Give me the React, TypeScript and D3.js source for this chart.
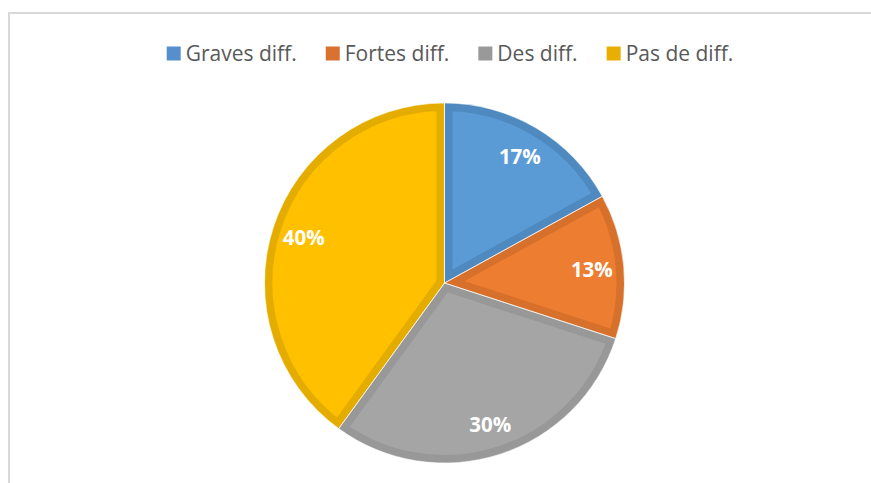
import React, { useEffect, useRef } from "react";
import * as d3 from "d3";

const categories = ["Graves diff.", "Fortes diff.", "Des diff.", "Pas de diff."];
const values = [17, 13, 30, 40];
const labels = ["17%", "13%", "30%", "40%"];
const fillColors = ["#5B9BD5", "#ED7D31", "#A5A5A5", "#FFC000"];
const edgeColors = ["#4E89BF", "#D6702B", "#989898", "#E5AC00"];
const legendColors = ["#5690CC", "#D97230", "#999999", "#E8AE00"];

const W = 871;
const H = 483;

export default function App() {
  const ref = useRef<SVGSVGElement | null>(null);

  useEffect(() => {
    const svg = d3.select(ref.current);
    svg.selectAll("*").remove();

    // frame
    svg.append("rect")
      .attr("x", 9).attr("y", 13)
      .attr("width", W + 20).attr("height", H + 20)
      .attr("fill", "#fff")
      .attr("stroke", "#D9D9D9").attr("stroke-width", 2);

    const cx = 444.5, cy = 283, r = 180, band = 8, labelR = 148;
    const pie = d3.pie<number>().sort(null).value((d) => d);
    const arcs = pie(values);
    const arc = d3.arc<d3.PieArcDatum<number>>().innerRadius(0).outerRadius(r);
    const labelArc = d3.arc<d3.PieArcDatum<number>>().innerRadius(labelR).outerRadius(labelR);

    const defs = svg.append("defs");
    const g = svg.append("g").attr("transform", `translate(${cx},${cy})`);

    arcs.forEach((a, i) => {
      const id = `clip${i}`;
      defs.append("clipPath").attr("id", id).append("path").attr("d", arc(a) as string);
      g.append("path")
        .attr("d", arc(a) as string)
        .attr("fill", fillColors[i])
        .attr("stroke", edgeColors[i])
        .attr("stroke-width", band * 2)
        .attr("stroke-linejoin", "miter")
        .attr("clip-path", `url(#${id})`);
    });
    arcs.forEach((a) => {
      g.append("path")
        .attr("d", arc(a) as string)
        .attr("fill", "none")
        .attr("stroke", "#fff")
        .attr("stroke-opacity", 0.6)
        .attr("stroke-width", 1);
    });

    arcs.forEach((a, i) => {
      const [x, y] = labelArc.centroid(a);
      g.append("text")
        .attr("x", x).attr("y", y)
        .attr("text-anchor", "middle")
        .attr("dominant-baseline", "central")
        .attr("font-family", "'Open Sans', sans-serif")
        .attr("font-weight", "bold")
        .attr("font-size", 20.5)
        .attr("fill", "#fff")
        .text(labels[i]);
    });

    // legend
    const lg = svg.append("g");
    const sq = 14, gapText = 5, gapItem = 29;
    const items = categories.map((c, i) => {
      const it = lg.append("g");
      it.append("rect").attr("width", sq).attr("height", sq).attr("y", 46.5).attr("fill", legendColors[i]);
      const t = it.append("text")
        .attr("x", sq + gapText).attr("y", 60.5)
        .attr("font-family", "'Open Sans', sans-serif")
        .attr("font-size", 21)
        .attr("fill", "#595959")
        .text(c);
      const w = (t.node() as SVGTextElement).getComputedTextLength();
      return { it, w: sq + gapText + w };
    });
    const total = items.reduce((s, d) => s + d.w, 0) + gapItem * (items.length - 1);
    let x0 = 450 - total / 2;
    items.forEach((d) => {
      d.it.attr("transform", `translate(${x0},0)`);
      x0 += d.w + gapItem;
    });
  }, []);

  return (
    <svg
      ref={ref}
      width={W}
      height={H}
      style={{ position: "absolute", left: 0, top: 0, background: "#fff" }}
    />
  );
}
